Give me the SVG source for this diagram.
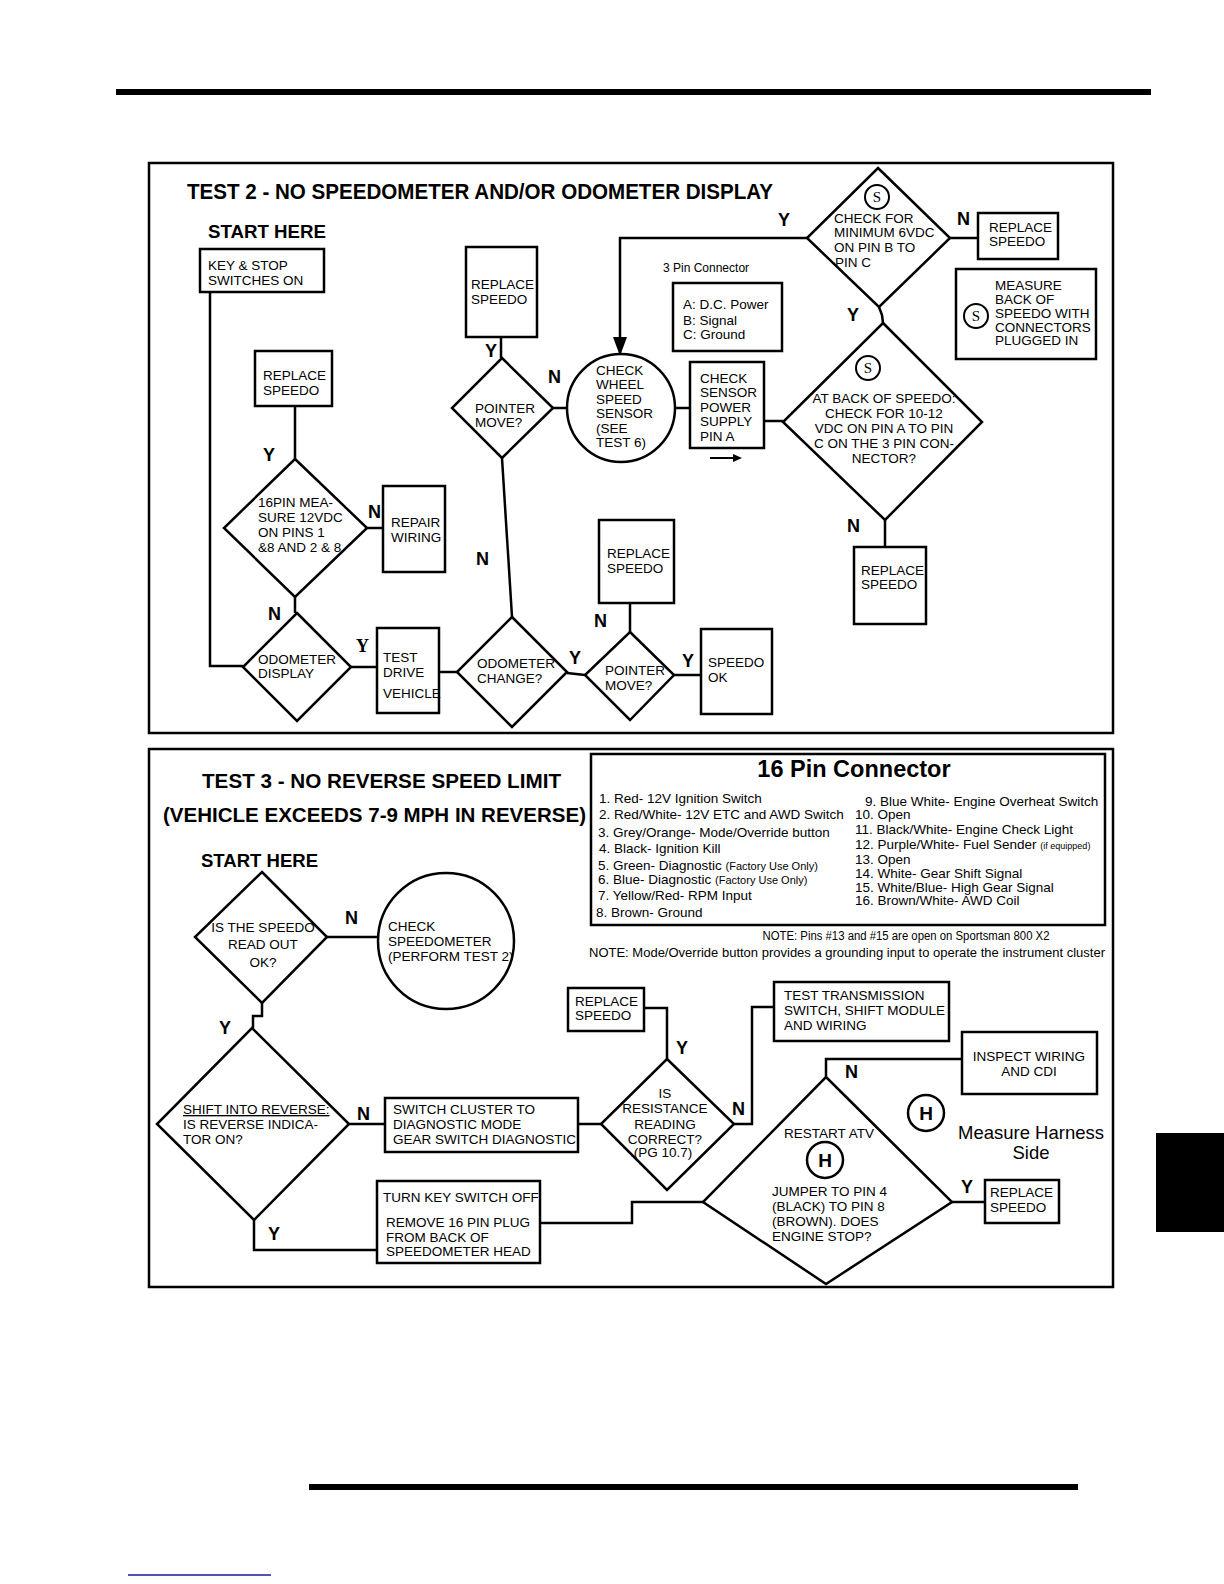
<svg xmlns="http://www.w3.org/2000/svg" width="1224" height="1584" viewBox="0 0 1224 1584">
<style>
text{font-family:"Liberation Sans",Arial,sans-serif;fill:#000}
.t{font-size:13.5px}
.s{font-size:13.5px}
.n{font-size:12px}
.yn{font-size:18px;font-weight:bold}
.h{font-weight:bold}
.sh{fill:#fff;stroke:#000;stroke-width:2.5}
.ln{fill:none;stroke:#000;stroke-width:2.5}
.fr{fill:none;stroke:#000;stroke-width:2.5}
.sc{fill:#fff;stroke:#000;stroke-width:2}
.sl{font-family:"Liberation Serif","Times New Roman",serif;font-size:15px}
</style>
<rect width="1224" height="1584" fill="#fff"/>
<!-- page decorations -->
<rect x="116" y="89" width="1035" height="6" fill="#000"/>
<rect x="309" y="1484" width="769" height="6" fill="#000"/>
<line x1="128" y1="1575" x2="271" y2="1575" stroke="#1a1a9a" stroke-width="1.5"/>
<rect x="1156" y="1133" width="68" height="99" fill="#000"/>

<!-- frames -->
<rect class="fr" x="149" y="163" width="964" height="570"/>
<rect class="fr" x="149" y="749" width="964" height="538"/>

<!-- TEST 2 titles -->
<text class="h" x="187" y="199" font-size="21.5" textLength="586" lengthAdjust="spacingAndGlyphs">TEST 2 - NO SPEEDOMETER AND/OR ODOMETER DISPLAY</text>
<text class="h" x="208" y="238" font-size="19" textLength="118" lengthAdjust="spacingAndGlyphs">START HERE</text>

<!-- connectors -->
<g id="connectors">
<path class="ln" d="M210,292 V666 H243"/>
<path class="ln" d="M295,406 V459"/>
<path class="ln" d="M295,597 V613"/>
<path class="ln" d="M367,528 H383"/>
<path class="ln" d="M351,667 H377"/>
<path class="ln" d="M439,672 H457"/>
<path class="ln" d="M501,337 V358"/>
<path class="ln" d="M502,458 L512,617"/>
<path class="ln" d="M553,408 H567"/>
<path class="ln" d="M675,408 H690"/>
<path class="ln" d="M764,421 H783"/>
<path class="ln" d="M807,238 H620 V340"/>
<polygon points="613,337 627,337 620,356" fill="#000"/>
<path class="ln" d="M950,238 H978"/>
<path class="ln" d="M879,307 L882,315 L883,323"/>
<path class="ln" d="M885,520 V547"/>
<path class="ln" d="M630,603 V632"/>
<path class="ln" d="M567,673 L585,675"/>
<path class="ln" d="M674,675 H701"/>
<path d="M710,458 H734" stroke="#000" stroke-width="2" fill="none"/>
<path d="M742,458 L733,454 L733,462 Z" fill="#000"/>
<!-- test 3 -->
<path class="ln" d="M327,937 H378"/>
<path class="ln" d="M262,1003 V1016 H253 V1028"/>
<path class="ln" d="M349,1124 H385"/>
<path class="ln" d="M578,1124 H601"/>
<path class="ln" d="M644,1008 H667 V1059"/>
<path class="ln" d="M734,1124 H752 V1007 H774"/>
<path class="ln" d="M254,1220 V1250 H377"/>
<path class="ln" d="M540,1223 H632 V1202 H703"/>
<path class="ln" d="M826,1077 V1059 H962"/>
<path class="ln" d="M952,1202 H985"/>
</g>

<!-- connector labels -->
<g id="labels">
<text class="yn" x="263" y="461">Y</text>
<text class="yn" x="368" y="518">N</text>
<text class="yn" x="268" y="620">N</text>
<text class="yn" x="356" y="652" style="font-family:'Liberation Serif',serif">Y</text>
<text class="yn" x="476" y="565">N</text>
<text class="yn" x="485" y="357">Y</text>
<text class="yn" x="548" y="383">N</text>
<text class="yn" x="569" y="664">Y</text>
<text class="yn" x="594" y="627">N</text>
<text class="yn" x="682" y="667">Y</text>
<text class="yn" x="778" y="226" font-size="20">Y</text>
<text class="yn" x="957" y="225" font-size="20">N</text>
<text class="yn" x="847" y="321">Y</text>
<text class="yn" x="847" y="532">N</text>
<text class="yn" x="345" y="924">N</text>
<text class="yn" x="219" y="1034">Y</text>
<text class="yn" x="357" y="1120">N</text>
<text class="yn" x="268" y="1240">Y</text>
<text class="yn" x="676" y="1054">Y</text>
<text class="yn" x="732" y="1115">N</text>
<text class="yn" x="845" y="1078">N</text>
<text class="yn" x="961" y="1193">Y</text>
</g>

<!-- TEST 2 nodes -->
<g id="key-stop">
<rect class="sh" x="200" y="249" width="124" height="43"/>
<text class="t" x="208" y="270">KEY &amp; STOP</text>
<text class="t" x="208" y="285">SWITCHES ON</text>
</g>
<g id="replace-speedo-1">
<rect class="sh" x="255" y="351" width="77" height="55"/>
<text class="t" x="263" y="380">REPLACE</text>
<text class="t" x="263" y="395">SPEEDO</text>
</g>
<g id="pin16-measure">
<polygon class="sh" points="295,459 367,528 295,597 224,528"/>
<text class="t" x="258" y="507" font-size="13">16PIN MEA-</text>
<text class="t" x="258" y="522" font-size="13">SURE 12VDC</text>
<text class="t" x="258" y="537" font-size="13">ON PINS 1</text>
<text class="t" x="258" y="552" font-size="13">&amp;8 AND 2 &amp; 8</text>
</g>
<g id="repair-wiring">
<rect class="sh" x="383" y="486" width="62" height="86"/>
<text class="t" x="391" y="527">REPAIR</text>
<text class="t" x="391" y="542">WIRING</text>
</g>
<g id="odometer-display">
<polygon class="sh" points="297,613 351,667 297,721 243,667"/>
<text class="t" x="258" y="664">ODOMETER</text>
<text class="t" x="258" y="678">DISPLAY</text>
</g>
<g id="test-drive">
<rect class="sh" x="377" y="628" width="62" height="85"/>
<text class="t" x="383" y="662">TEST</text>
<text class="t" x="383" y="677">DRIVE</text>
<text class="t" x="383" y="698">VEHICLE</text>
</g>
<g id="odometer-change">
<polygon class="sh" points="512,617 567,672 512,727 457,672"/>
<text class="t" x="477" y="668">ODOMETER</text>
<text class="t" x="477" y="683">CHANGE?</text>
</g>
<g id="replace-speedo-2">
<rect class="sh" x="466" y="247" width="71" height="90"/>
<text class="t" x="471" y="289">REPLACE</text>
<text class="t" x="471" y="304">SPEEDO</text>
</g>
<g id="pointer-move-1">
<polygon class="sh" points="502,358 553,408 502,458 452,408"/>
<text class="t" x="475" y="413">POINTER</text>
<text class="t" x="475" y="427">MOVE?</text>
</g>
<g id="check-wheel-speed">
<circle class="sh" cx="621" cy="408" r="54"/>
<text class="t" x="596" y="375">CHECK</text>
<text class="t" x="596" y="389">WHEEL</text>
<text class="t" x="596" y="404">SPEED</text>
<text class="t" x="596" y="418">SENSOR</text>
<text class="t" x="596" y="433">(SEE</text>
<text class="t" x="596" y="447">TEST 6)</text>
</g>
<g id="check-sensor-power">
<rect class="sh" x="690" y="362" width="74" height="86"/>
<text class="t" x="700" y="383">CHECK</text>
<text class="t" x="700" y="397">SENSOR</text>
<text class="t" x="700" y="412">POWER</text>
<text class="t" x="700" y="426">SUPPLY</text>
<text class="t" x="700" y="441">PIN A</text>
</g>
<g id="pin3-connector">
<text class="n" x="663" y="272">3 Pin Connector</text>
<rect class="sh" x="673" y="283" width="109" height="68" stroke-width="2"/>
<text class="t" x="683" y="309" font-size="13">A: D.C. Power</text>
<text class="t" x="683" y="325" font-size="13">B: Signal</text>
<text class="t" x="683" y="339" font-size="13">C: Ground</text>
</g>
<g id="check-min-6vdc">
<polygon class="sh" points="878,168 950,238 879,307 807,238"/>
<circle class="sc" cx="877" cy="197" r="12"/>
<text class="sl" x="877" y="202" text-anchor="middle">S</text>
<text class="t" x="834" y="223">CHECK FOR</text>
<text class="t" x="834" y="237">MINIMUM 6VDC</text>
<text class="t" x="834" y="252">ON PIN B TO</text>
<text class="t" x="835" y="267">PIN C</text>
</g>
<g id="replace-speedo-3">
<rect class="sh" x="978" y="213" width="80" height="46"/>
<text class="t" x="989" y="232">REPLACE</text>
<text class="t" x="989" y="246">SPEEDO</text>
</g>
<g id="measure-legend">
<rect class="sh" x="956" y="269" width="140" height="90"/>
<circle class="sc" cx="976" cy="316" r="12"/>
<text class="sl" x="976" y="321" text-anchor="middle">S</text>
<text class="t" x="995" y="290">MEASURE</text>
<text class="t" x="995" y="304">BACK OF</text>
<text class="t" x="995" y="318">SPEEDO WITH</text>
<text class="t" x="995" y="332">CONNECTORS</text>
<text class="t" x="995" y="345">PLUGGED IN</text>
</g>
<g id="check-10-12vdc">
<polygon class="sh" points="883,323 982,422 885,520 783,422"/>
<circle class="sc" cx="868" cy="368" r="12"/>
<text class="sl" x="868" y="373" text-anchor="middle">S</text>
<text class="t" x="884" y="403" text-anchor="middle">AT BACK OF SPEEDO:</text>
<text class="t" x="884" y="418" text-anchor="middle">CHECK FOR 10-12</text>
<text class="t" x="884" y="433" text-anchor="middle">VDC ON PIN A TO PIN</text>
<text class="t" x="884" y="448" text-anchor="middle">C ON THE 3 PIN CON-</text>
<text class="t" x="884" y="463" text-anchor="middle">NECTOR?</text>
</g>
<g id="replace-speedo-4">
<rect class="sh" x="854" y="547" width="72" height="77"/>
<text class="t" x="861" y="575">REPLACE</text>
<text class="t" x="861" y="589">SPEEDO</text>
</g>
<g id="replace-speedo-5">
<rect class="sh" x="599" y="520" width="75" height="83"/>
<text class="t" x="607" y="558">REPLACE</text>
<text class="t" x="607" y="573">SPEEDO</text>
</g>
<g id="pointer-move-2">
<polygon class="sh" points="630,632 674,675 630,720 585,675"/>
<text class="t" x="605" y="675">POINTER</text>
<text class="t" x="605" y="690">MOVE?</text>
</g>
<g id="speedo-ok">
<rect class="sh" x="701" y="629" width="71" height="85"/>
<text class="t" x="708" y="667">SPEEDO</text>
<text class="t" x="708" y="682">OK</text>
</g>

<!-- TEST 3 titles -->
<text class="h" x="202" y="788" font-size="20" textLength="359" lengthAdjust="spacingAndGlyphs">TEST 3 - NO REVERSE SPEED LIMIT</text>
<text class="h" x="163" y="822" font-size="20" textLength="423" lengthAdjust="spacingAndGlyphs">(VEHICLE EXCEEDS 7-9 MPH IN REVERSE)</text>
<text class="h" x="201" y="867" font-size="19" textLength="117" lengthAdjust="spacingAndGlyphs">START HERE</text>

<g id="pin16-connector">
<rect class="sh" x="591" y="754" width="514" height="171"/>
<text class="h" x="854" y="777" font-size="23.5" text-anchor="middle">16 Pin Connector</text>
<text class="s" x="599" y="803">1.  Red- 12V Ignition Switch</text>
<text class="s" x="599" y="819">2.  Red/White- 12V ETC and AWD Switch</text>
<text class="s" x="598" y="837">3.  Grey/Orange- Mode/Override button</text>
<text class="s" x="599" y="853">4.  Black- Ignition Kill</text>
<text class="s" x="598" y="870">5.  Green- Diagnostic <tspan font-size="11">(Factory Use Only)</tspan></text>
<text class="s" x="598" y="884">6.  Blue- Diagnostic <tspan font-size="11">(Factory Use Only)</tspan></text>
<text class="s" x="598" y="900">7.  Yellow/Red- RPM Input</text>
<text class="s" x="596" y="917">8.  Brown- Ground</text>
<text class="s" x="865" y="806">9.  Blue White- Engine Overheat Switch</text>
<text class="s" x="855" y="819">10.  Open</text>
<text class="s" x="855" y="834">11.  Black/White- Engine Check Light</text>
<text class="s" x="855" y="849">12.  Purple/White- Fuel Sender <tspan font-size="9">(if equipped)</tspan></text>
<text class="s" x="855" y="864">13.  Open</text>
<text class="s" x="855" y="878">14.  White- Gear Shift Signal</text>
<text class="s" x="855" y="892">15.  White/Blue- High Gear Signal</text>
<text class="s" x="855" y="905">16.  Brown/White- AWD Coil</text>
</g>
<text class="n" x="906" y="940" text-anchor="middle" textLength="287" lengthAdjust="spacingAndGlyphs">NOTE: Pins #13 and #15 are open on Sportsman 800 X2</text>
<text class="n" x="589" y="957" textLength="516" lengthAdjust="spacingAndGlyphs">NOTE: Mode/Override button provides a grounding input to operate the instrument cluster</text>

<g id="speedo-readout">
<polygon class="sh" points="262,872 327,937 262,1003 195,937"/>
<text class="t" x="263" y="932" text-anchor="middle">IS THE SPEEDO</text>
<text class="t" x="263" y="949" text-anchor="middle">READ OUT</text>
<text class="t" x="263" y="967" text-anchor="middle">OK?</text>
</g>
<g id="check-speedometer">
<circle class="sh" cx="446" cy="941" r="68"/>
<text class="t" x="388" y="931">CHECK</text>
<text class="t" x="388" y="946">SPEEDOMETER</text>
<text class="t" x="388" y="961">(PERFORM TEST 2)</text>
</g>
<g id="shift-reverse">
<polygon class="sh" points="252,1028 349,1124 254,1220 157,1124"/>
<text class="t" x="183" y="1114" text-decoration="underline">SHIFT INTO REVERSE:</text>
<text class="t" x="183" y="1129">IS REVERSE INDICA-</text>
<text class="t" x="183" y="1144">TOR ON?</text>
</g>
<g id="switch-cluster">
<rect class="sh" x="385" y="1098" width="193" height="54"/>
<text class="t" x="393" y="1114">SWITCH CLUSTER TO</text>
<text class="t" x="393" y="1129">DIAGNOSTIC MODE</text>
<text class="t" x="393" y="1144">GEAR SWITCH DIAGNOSTIC</text>
</g>
<g id="turn-key-off">
<rect class="sh" x="377" y="1181" width="163" height="82"/>
<text class="t" x="383" y="1202">TURN KEY SWITCH OFF</text>
<text class="t" x="386" y="1227">REMOVE 16 PIN  PLUG</text>
<text class="t" x="386" y="1242">FROM BACK OF</text>
<text class="t" x="386" y="1256">SPEEDOMETER HEAD</text>
</g>
<g id="replace-speedo-6">
<rect class="sh" x="568" y="988" width="76" height="43"/>
<text class="t" x="575" y="1006">REPLACE</text>
<text class="t" x="575" y="1020">SPEEDO</text>
</g>
<g id="resistance-correct">
<polygon class="sh" points="667,1059 734,1124 667,1190 601,1124"/>
<text class="t" x="665" y="1098" text-anchor="middle">IS</text>
<text class="t" x="665" y="1113" text-anchor="middle">RESISTANCE</text>
<text class="t" x="665" y="1129" text-anchor="middle">READING</text>
<text class="t" x="665" y="1144" text-anchor="middle">CORRECT?</text>
<text class="t" x="663" y="1157" text-anchor="middle" font-size="11">(PG 10.7)</text>
</g>
<g id="test-transmission">
<rect class="sh" x="774" y="982" width="175" height="59"/>
<text class="t" x="784" y="1000">TEST TRANSMISSION</text>
<text class="t" x="784" y="1015">SWITCH, SHIFT MODULE</text>
<text class="t" x="784" y="1030">AND WIRING</text>
</g>
<g id="inspect-wiring">
<rect class="sh" x="962" y="1032" width="135" height="62"/>
<text class="t" x="1029" y="1061" text-anchor="middle">INSPECT WIRING</text>
<text class="t" x="1029" y="1076" text-anchor="middle">AND CDI</text>
</g>
<g id="restart-atv">
<polygon class="sh" points="826,1077 952,1202 826,1284 703,1202"/>
<text class="t" x="829" y="1138" text-anchor="middle">RESTART ATV</text>
<circle class="sh" cx="825" cy="1160" r="18"/>
<text class="h" x="825" y="1167" font-size="19" text-anchor="middle">H</text>
<text class="t" x="772" y="1196">JUMPER TO PIN 4</text>
<text class="t" x="772" y="1211">(BLACK) TO PIN 8</text>
<text class="t" x="772" y="1226">(BROWN). DOES</text>
<text class="t" x="772" y="1241">ENGINE STOP?</text>
</g>
<g id="replace-speedo-7">
<rect class="sh" x="985" y="1180" width="74" height="43"/>
<text class="t" x="990" y="1197">REPLACE</text>
<text class="t" x="990" y="1212">SPEEDO</text>
</g>
<g id="harness-legend">
<circle class="sh" cx="926" cy="1113" r="18"/>
<text class="h" x="926" y="1120" font-size="19" text-anchor="middle">H</text>
<text x="1031" y="1139" font-size="18.5" text-anchor="middle">Measure Harness</text>
<text x="1031" y="1159" font-size="18.5" text-anchor="middle">Side</text>
</g>
</svg>
